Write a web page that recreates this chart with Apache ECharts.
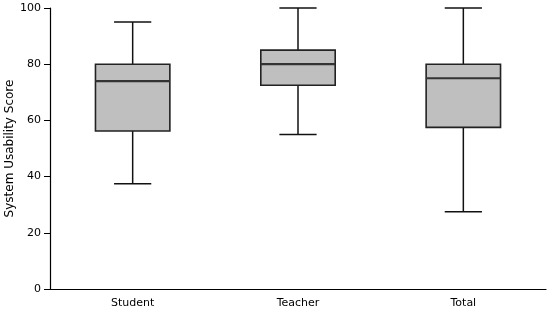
<!DOCTYPE html>
<html><head><meta charset="utf-8">
<script src="https://cdn.jsdelivr.net/npm/echarts@6/dist/echarts.min.js"></script>
<style>html,body{margin:0;padding:0;background:#fff}#c{width:550px;height:312px}</style>
</head><body><div id="c"></div>
<script>
const categories = ['Student', 'Teacher', 'Total'];
const whiskerLow = [37.5, 55, 27.5];
const q1 = [56.25, 72.5, 57.5];
const median = [74, 80, 75];
const q3 = [80, 85, 80];
const whiskerHigh = [95, 100, 100];
const yTicks = [0, 20, 40, 60, 80, 100];

const data = categories.map((c, i) => [i, whiskerLow[i], q1[i], median[i], q3[i], whiskerHigh[i]]);
const font = '"DejaVu Sans", sans-serif';

function renderItem(params, api) {
  const x = api.value(0);
  const band = api.size([1, 0])[0];
  const bw = band * 0.45;
  const cw = bw / 2;
  const pLo = api.coord([x, api.value(1)]);
  const pQ1 = api.coord([x, api.value(2)]);
  const pMed = api.coord([x, api.value(3)]);
  const pQ3 = api.coord([x, api.value(4)]);
  const pHi = api.coord([x, api.value(5)]);
  const cx = pLo[0];
  const lineStyle = { stroke: '#111', lineWidth: 1.5, fill: null };
  return {
    type: 'group',
    children: [
      { type: 'line', shape: { x1: cx, y1: pLo[1], x2: cx, y2: pQ1[1] }, style: lineStyle },
      { type: 'line', shape: { x1: cx, y1: pQ3[1], x2: cx, y2: pHi[1] }, style: lineStyle },
      { type: 'line', shape: { x1: cx - cw / 2, y1: pLo[1], x2: cx + cw / 2, y2: pLo[1] }, style: lineStyle },
      { type: 'line', shape: { x1: cx - cw / 2, y1: pHi[1], x2: cx + cw / 2, y2: pHi[1] }, style: lineStyle },
      { type: 'rect', shape: { x: cx - bw / 2, y: pQ3[1], width: bw, height: pQ1[1] - pQ3[1] },
        style: { fill: '#bfbfbf', stroke: '#222', lineWidth: 1.6 } },
      { type: 'line', shape: { x1: cx - bw / 2, y1: pMed[1], x2: cx + bw / 2, y2: pMed[1] },
        style: { stroke: '#333', lineWidth: 2.2 } }
    ]
  };
}

const chart = echarts.init(document.getElementById('c'), null, { renderer: 'canvas' });
chart.setOption({
  animation: false,
  grid: { left: 50, right: 4, top: 8, bottom: 23, containLabel: false, outerBoundsMode: 'none' },
  xAxis: {
    type: 'category', data: categories,
    axisLine: { lineStyle: { color: '#000', width: 1.2 } },
    axisTick: { alignWithLabel: true, length: 5, lineStyle: { color: '#000' } },
    axisLabel: { color: '#000', fontFamily: font, fontSize: 11, margin: 9 },
    splitLine: { show: false }
  },
  yAxis: {
    type: 'value', min: 0, max: 100, interval: 20,
    name: 'System Usability Score', nameLocation: 'middle', nameRotate: 90, nameGap: 34,
    nameMoveOverlap: false,
    nameTextStyle: { color: '#000', fontFamily: font, fontSize: 12 },
    axisLine: { show: true, lineStyle: { color: '#000', width: 1.2 } },
    axisTick: { show: true, length: 6, lineStyle: { color: '#000' } },
    axisLabel: { color: '#000', fontFamily: font, fontSize: 11, margin: 9,
      formatter: v => yTicks.includes(v) ? String(v) : '' },
    splitLine: { show: false }
  },
  series: [{
    type: 'custom', renderItem: renderItem, data: data,
    encode: { x: 0, y: [1, 2, 3, 4, 5] }
  }]
});
</script></body></html>
